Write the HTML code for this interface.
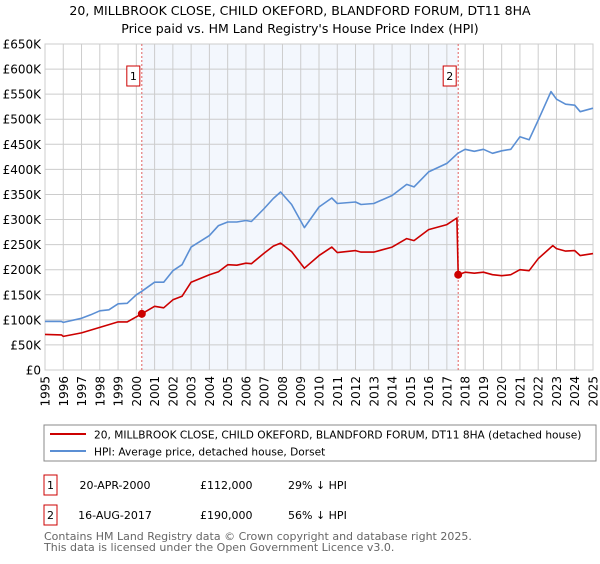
<!DOCTYPE html>
<html><head><meta charset="utf-8"><style>
body{margin:0;background:#fff;font-family:"DejaVu Sans","Liberation Sans",sans-serif;}
svg text{font-family:"DejaVu Sans","Liberation Sans",sans-serif;}
</style></head><body>
<svg id="chart" width="600" height="560" xmlns="http://www.w3.org/2000/svg">
<text x="300" y="15" text-anchor="middle" font-size="12.5" fill="#000">20, MILLBROOK CLOSE, CHILD OKEFORD, BLANDFORD FORUM, DT11 8HA</text>
<text x="300" y="33" text-anchor="middle" font-size="12.5" fill="#000">Price paid vs. HM Land Registry's House Price Index (HPI)</text>
<g id="plot"></g>
<rect x="44" y="425" width="552" height="36" fill="#fff" stroke="#888"/>
<line x1="50" y1="434" x2="86" y2="434" stroke="#cc0000" stroke-width="2"/>
<text x="94" y="438.5" font-size="10.6">20, MILLBROOK CLOSE, CHILD OKEFORD, BLANDFORD FORUM, DT11 8HA (detached house)</text>
<line x1="50" y1="451" x2="86" y2="451" stroke="#5b8fd4" stroke-width="2"/>
<text x="94" y="455.5" font-size="10.6">HPI: Average price, detached house, Dorset</text>
<rect x="44" y="475" width="13" height="20" fill="#fff" stroke="#cc0000"/>
<text x="50.5" y="489" text-anchor="middle" font-size="11">1</text>
<text x="115" y="489" text-anchor="middle" font-size="11">20-APR-2000</text>
<text x="200" y="489" font-size="11">£112,000</text>
<text x="288" y="489" font-size="11">29% ↓ HPI</text>
<rect x="44" y="505" width="13" height="20" fill="#fff" stroke="#cc0000"/>
<text x="50.5" y="519" text-anchor="middle" font-size="11">2</text>
<text x="115" y="519" text-anchor="middle" font-size="11">16-AUG-2017</text>
<text x="200" y="519" font-size="11">£190,000</text>
<text x="288" y="519" font-size="11">56% ↓ HPI</text>
<text x="44" y="540" font-size="11" fill="#666">Contains HM Land Registry data © Crown copyright and database right 2025.</text>
<text x="44" y="551" font-size="11" fill="#666">This data is licensed under the Open Government Licence v3.0.</text>
</svg>
<script>
const yTicks=[0,50,100,150,200,250,300,350,400,450,500,550,600,650];
const yTickLabels=["£0","£50K","£100K","£150K","£200K","£250K","£300K","£350K","£400K","£450K","£500K","£550K","£600K","£650K"];
const xYears=[1995,1996,1997,1998,1999,2000,2001,2002,2003,2004,2005,2006,2007,2008,2009,2010,2011,2012,2013,2014,2015,2016,2017,2018,2019,2020,2021,2022,2023,2024,2025];
const hpiT=[1995,1995.9,1996,1997,1997.5,1998,1998.5,1999,1999.5,2000,2000.3,2001,2001.5,2002,2002.5,2003,2004,2004.5,2005,2005.5,2006,2006.3,2007,2007.5,2007.9,2008.5,2009.2,2010,2010.7,2011,2012,2012.3,2013,2014,2014.8,2015.2,2016,2017,2017.6,2018,2018.5,2019,2019.5,2020,2020.5,2021,2021.5,2022,2022.7,2023,2023.5,2024,2024.3,2025];
const hpiV=[97,97,95,103,110,118,120,132,133,150,157,175,175,198,210,245,268,288,295,295,298,296,322,342,355,330,284,325,343,332,335,330,332,348,370,365,395,412,432,440,436,440,432,437,440,465,459,498,555,540,530,528,515,522];
const ppT=[1995,1995.9,1996,1997,1998,1999,1999.5,2000.3,2001,2001.5,2002,2002.5,2003,2004,2004.5,2005,2005.5,2006,2006.3,2007,2007.5,2007.9,2008.5,2009.2,2010,2010.7,2011,2012,2012.3,2013,2014,2014.8,2015.2,2016,2017,2017.55,2017.62,2018,2018.5,2019,2019.5,2020,2020.5,2021,2021.5,2022,2022.8,2023,2023.5,2024,2024.3,2025];
const ppV=[71,70,67,74,85,96,96,112,127,124,140,147,175,190,196,210,209,213,212,233,247,253,236,203,228,245,234,238,235,235,245,262,258,280,290,303,190,195,193,195,190,188,190,200,198,222,248,242,237,238,228,232];
const sales=[{t:2000.3,v:112,label:"1"},{t:2017.62,v:190,label:"2"}];
const NS="http://www.w3.org/2000/svg";
const X0=45,X1=593,Y0=370,Y1=44;
const xs=t=>X0+(t-1995)/30*(X1-X0);
const ys=v=>Y0-v/650*(Y0-Y1);
const g=document.getElementById('plot');
function mk(tag,a){const e=document.createElementNS(NS,tag);for(const k in a)e.setAttribute(k,a[k]);g.appendChild(e);return e;}
let e=mk('rect',{x:xs(2000.3),y:Y1,width:xs(2017.62)-xs(2000.3),height:Y0-Y1,fill:'#eef3fc',opacity:0.7});


yTicks.forEach((v,i)=>{
  const l=mk('line',{x1:X0,x2:X1,y1:ys(v),y2:ys(v),stroke:'#ccc','stroke-width':1});
  
  
  const t=mk('text',{x:X0-4,y:ys(v)+4.5,'text-anchor':'end','font-size':12});
  t.textContent=yTickLabels[i];
  
  
});
xYears.forEach(yr=>{
  const l=mk('line',{x1:xs(yr),x2:xs(yr),y1:Y1,y2:Y0,stroke:'#ccc','stroke-width':1});
  
  
  const t=mk('text',{x:0,y:0,'text-anchor':'end','font-size':12,transform:`translate(${xs(yr)+4.5},376) rotate(-90)`});
  t.textContent=yr;
  
  
});
const fr=mk('rect',{x:X0,y:Y1,width:X1-X0,height:Y0-Y1,fill:'none',stroke:'#ccc'});


sales.forEach(s=>{
  const l=mk('line',{x1:xs(s.t),x2:xs(s.t),y1:Y1,y2:Y0,stroke:'#e06060','stroke-dasharray':'2,2','stroke-width':1});
  
  
});
function path(T,V,col,name){
  const d=T.map((t,i)=>(i?'L':'M')+xs(t).toFixed(1)+','+ys(V[i]).toFixed(1)).join('');
  const p=mk('path',{d:d,fill:'none',stroke:col,'stroke-width':1.6,'stroke-linejoin':'round'});
  
  
}
path(hpiT,hpiV,'#5b8fd4','hpi-line');
path(ppT,ppV,'#cc0000','price-paid-line');
sales.forEach(s=>{
  const c=mk('circle',{cx:xs(s.t),cy:ys(s.v),r:4,fill:'#cc0000'});
  
  
  const b=mk('rect',{x:xs(s.t)-15,y:66,width:13,height:20,fill:'#fff',stroke:'#cc0000'});
  
  
  const t=mk('text',{x:xs(s.t)-8.5,y:80,'text-anchor':'middle','font-size':11});
  t.textContent=s.label;
  
  
});
</script>
</body></html>
